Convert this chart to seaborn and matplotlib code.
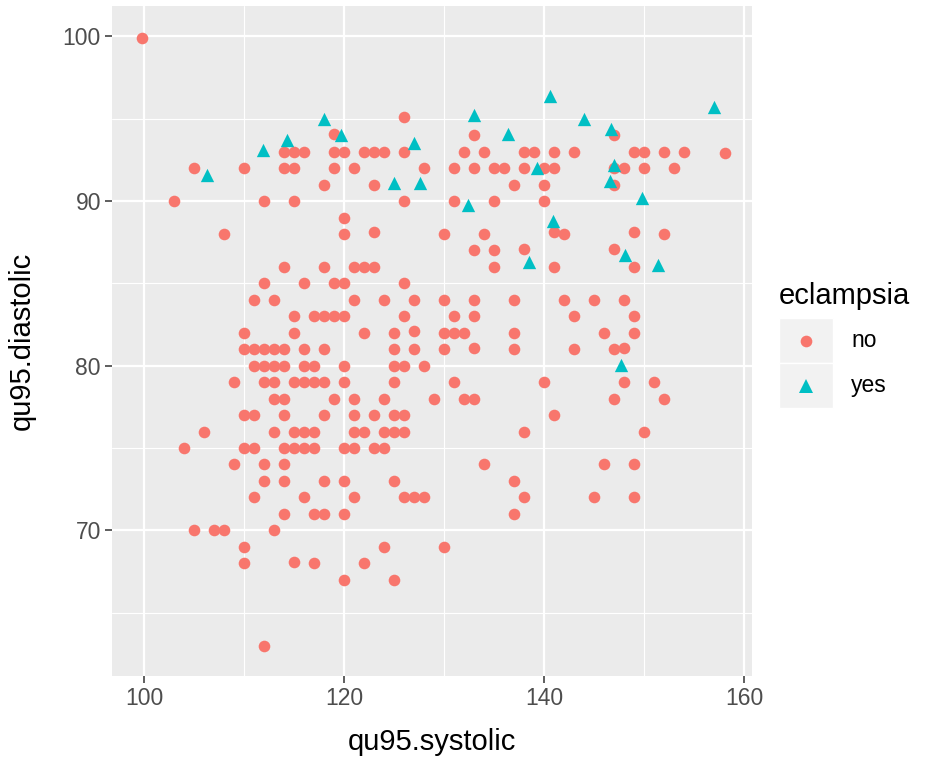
import matplotlib
matplotlib.use("Agg")
import matplotlib.pyplot as plt
from matplotlib.lines import Line2D
from matplotlib.patches import Rectangle
from matplotlib.ticker import FixedLocator
import seaborn as sns
import pandas as pd

# 95th-percentile blood pressure per patient, women without eclampsia
sys_no = [
    99.8,
    126,
    119,
    133, 147,
    114, 115, 116, 119, 120, 122, 123, 124, 126, 132, 134, 138, 139, 141, 143, 149, 150, 152, 154,
    158.1,
    105, 110, 114, 115, 119, 121, 128, 131, 133, 135, 136, 138, 140, 141, 147, 148, 150, 153,
    118, 123, 137, 140, 147,
    103, 112, 115, 126, 131, 135, 140,
    120,
    108, 120, 123, 130, 134, 141, 142, 149, 152,
    133, 135, 138, 147,
    114, 118, 121, 122, 123, 135, 141, 149,
    112, 116, 119, 120, 126,
    111, 113, 121, 124, 127, 130, 133, 137, 142, 145, 148,
    115, 117, 118, 119, 120, 126, 131, 133, 143, 149,
    110, 115, 122, 125, 127, 130, 131, 132, 137, 146, 149,
    110, 111, 112, 113, 114, 116, 118, 125, 127, 130, 133, 137, 143, 147, 148,
    111, 112, 113, 114, 116, 117, 120, 125, 126, 128,
    109, 112, 113, 115, 116, 117, 118, 120, 125, 131, 140, 148, 151,
    113, 114, 119, 121, 124, 129, 132, 133, 147, 152,
    110, 111, 114, 118, 121, 123, 125, 126, 141,
    106, 113, 115, 116, 117, 121, 122, 124, 125, 126, 138, 150,
    104, 110, 111, 114, 115, 116, 117, 120, 121, 123, 124,
    109, 112, 114, 134, 146, 149,
    112, 114, 118, 120, 125, 137,
    111, 116, 121, 126, 127, 128, 138, 145, 149,
    114, 117, 118, 120, 137,
    105, 107, 108, 113,
    110, 124, 130,
    110, 115, 117, 122,
    120, 125,
    112,
]
dia_no = [
    99.9,
    95.1,
    94.1,
    94, 94,
    93, 93, 93, 93, 93, 93, 93, 93, 93, 93, 93, 93, 93, 93, 93, 93, 93, 93, 93,
    92.9,
    92, 92, 92, 92, 92, 92, 92, 92, 92, 92, 92, 92, 92, 92, 92, 92, 92, 92,
    91, 91, 91, 91, 91,
    90, 90, 90, 90, 90, 90, 90,
    89,
    88, 88, 88.1, 88, 88, 88.1, 88, 88.1, 88,
    87, 87, 87.1, 87.1,
    86, 86, 86, 86, 86, 86, 86, 86,
    85, 85, 85, 85, 85,
    84, 84, 84, 84, 84, 84, 84, 84, 84, 84, 84,
    83, 83, 83, 83, 83, 83, 83, 83, 83, 83,
    82, 82, 82, 82, 82.1, 82, 82, 82, 82, 82, 82,
    81, 81, 81, 81, 81, 81, 81, 81, 81, 81, 81.1, 81, 81, 81, 81.1,
    80, 80, 80, 80, 80, 80, 80, 80, 80, 80,
    79, 79, 79, 79, 79, 79, 79, 79, 79, 79, 79, 79, 79,
    78, 78, 78, 78, 78, 78, 78, 78, 78, 78,
    77, 77, 77, 77, 77, 77, 77, 77, 77,
    76, 76, 76, 76, 76, 76, 76, 76, 76, 76, 76, 76,
    75, 75, 75, 75, 75, 75, 75, 75, 75, 75, 75,
    74, 74, 74, 74, 74, 74,
    73, 73, 73, 73, 73, 73,
    72, 72, 72, 72, 72, 72, 72, 72, 72,
    71, 71, 71, 71, 71,
    70, 70, 70, 70,
    69, 69, 69,
    68, 68.1, 68, 68,
    67, 67,
    63,
]

# Women with eclampsia
sys_yes = [118, 114.3, 111.9, 106.3, 133, 119.7, 136.4, 127, 139.3, 140.6, 157, 144,
           146.7, 147, 146.6, 125, 127.6, 132.4, 138.5, 149.8, 140.9, 148.1, 151.4, 147.7]
dia_yes = [95, 93.7, 93.1, 91.6, 95.2, 94, 94.1, 93.5, 92, 96.4, 95.7, 95,
           94.4, 92.2, 91.2, 91.1, 91.1, 89.75, 86.3, 90.2, 88.8, 86.7, 86.1, 80.05]

groups = ["no", "yes"]
colors = {"no": "#F8766D", "yes": "#00BFC4"}
markers = {"no": "o", "yes": "^"}
sizes = {"no": 70, "yes": 92}

x_major = [100, 120, 140, 160]
x_minor = [110, 130, 150]
y_major = [70, 80, 90, 100]
y_minor = [65, 75, 85, 95]

df = pd.DataFrame({
    "qu95.systolic": sys_no + sys_yes,
    "qu95.diastolic": dia_no + dia_yes,
    "eclampsia": ["no"] * len(sys_no) + ["yes"] * len(sys_yes),
})

sns.set_theme(style="darkgrid")
plt.rcParams["font.family"] = ["Liberation Sans", "DejaVu Sans"]

W, H = 940, 757
fig = plt.figure(figsize=(W / 100, H / 100), dpi=100)
fig.patch.set_facecolor("white")
ax = fig.add_axes([112 / W, (H - 676) / H, 640 / W, 670 / H])
ax.set_facecolor("#EBEBEB")

for g in groups:
    sub = df[df["eclampsia"] == g]
    sns.scatterplot(data=sub, x="qu95.systolic", y="qu95.diastolic",
                    color=colors[g], marker=markers[g], s=sizes[g],
                    linewidth=0, legend=False, ax=ax, zorder=3)

ax.set_xlim(96.8, 160.8)
ax.set_ylim(61.15, 101.85)
ax.xaxis.set_major_locator(FixedLocator(x_major))
ax.xaxis.set_minor_locator(FixedLocator(x_minor))
ax.yaxis.set_major_locator(FixedLocator(y_major))
ax.yaxis.set_minor_locator(FixedLocator(y_minor))
ax.grid(which="major", color="white", linewidth=1.6)
ax.grid(which="minor", color="white", linewidth=0.8)
ax.set_axisbelow(True)
for sp in ax.spines.values():
    sp.set_visible(False)

ax.tick_params(which="major", length=5, width=1.1, color="#333333",
               labelcolor="#4D4D4D", labelsize=16.5, pad=3,
               bottom=True, left=True)
ax.tick_params(which="minor", length=0)

ax.set_xlabel("qu95.systolic", fontsize=21, color="black")
ax.set_ylabel("qu95.diastolic", fontsize=21, color="black")
ax.xaxis.set_label_coords(0.5, (676 - 742) / 670)
ax.xaxis.label.set_va("center")
ax.yaxis.set_label_coords((22 - 112) / 640, 0.5)
ax.yaxis.label.set_va("center")

# Legend drawn in figure pixel coordinates
def fx(px):
    return px / W

def fy(py):
    return 1 - py / H

fig.text(fx(779), fy(296), "eclampsia", fontsize=21, color="black",
         ha="left", va="center")
for i, g in enumerate(groups):
    top = 318 + i * 45
    fig.add_artist(Rectangle((fx(779), fy(top + 45)), 54 / W, 45 / H,
                             transform=fig.transFigure, facecolor="#F2F2F2",
                             edgecolor="white", linewidth=1))
    cy = top + 22.5
    ms = 8.4 if g == "no" else 9.6
    fig.add_artist(Line2D([fx(806)], [fy(cy)], transform=fig.transFigure,
                          marker=markers[g], markersize=ms, color=colors[g],
                          markeredgewidth=0, linestyle="none"))
    fig.text(fx(851), fy(cy), g, fontsize=16.5, color="black",
             ha="left", va="center")

fig.savefig("out.png", dpi=100)
